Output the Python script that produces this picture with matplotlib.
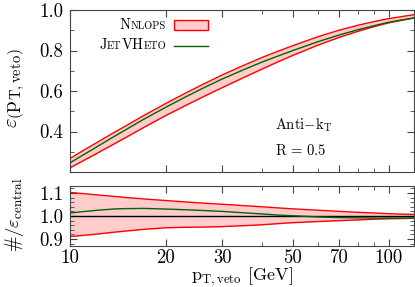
import matplotlib
matplotlib.use("Agg")
import matplotlib.pyplot as plt
from matplotlib.offsetbox import TextArea, HPacker, AnnotationBbox
from matplotlib.ticker import FixedLocator, FixedFormatter, NullFormatter, MultipleLocator
import numpy as np

# values
pt = [10, 11, 12, 13, 14, 15, 17, 20, 23, 26, 30, 35, 40, 45, 50, 60, 70, 80, 90, 100, 110, 120]
eff_central = [0.242, 0.279, 0.312, 0.343, 0.371, 0.397, 0.445, 0.505, 0.555, 0.598, 0.646,
               0.695, 0.736, 0.770, 0.799, 0.847, 0.883, 0.910, 0.931, 0.948, 0.960, 0.970]
ratio_up = [1.102, 1.097, 1.092, 1.088, 1.084, 1.080, 1.074, 1.067, 1.061, 1.056, 1.051,
            1.045, 1.040, 1.035, 1.031, 1.025, 1.020, 1.016, 1.013, 1.010, 1.008, 1.007]
ratio_dn = [0.911, 0.916, 0.921, 0.926, 0.931, 0.935, 0.942, 0.949, 0.951, 0.952, 0.954,
            0.958, 0.962, 0.967, 0.971, 0.976, 0.980, 0.983, 0.986, 0.988, 0.989, 0.990]
ratio_jetvheto = [1.013, 1.019, 1.024, 1.028, 1.031, 1.032, 1.033, 1.030, 1.027, 1.024, 1.020,
                  1.014, 1.009, 1.004, 1.001, 0.996, 0.993, 0.992, 0.991, 0.991, 0.991, 0.991]

xticks = [10, 20, 30, 50, 70, 100]
xminor = [40, 60, 80, 90]

plt.rcParams["font.family"] = "serif"
plt.rcParams["font.serif"] = ["cmr10"]
plt.rcParams["mathtext.fontset"] = "cm"
plt.rcParams["axes.unicode_minus"] = False

pink = "#ffcccc"
red = "#ff0000"
green = "#006400"

pt_a = np.array(pt)
cen = np.array(eff_central)
up = cen * np.array(ratio_up)
dn = cen * np.array(ratio_dn)
jv = cen * np.array(ratio_jetvheto)

fig = plt.figure(figsize=(4.15, 2.87), dpi=100)
ax1 = fig.add_axes([70 / 415, 1 - 172 / 287, 344 / 415, 162 / 287])
ax2 = fig.add_axes([70 / 415, 1 - 246 / 287, 344 / 415, 60 / 287])

# top panel
ax1.fill_between(pt_a, dn, up, color=pink, lw=0)
ax1.plot(pt_a, up, color=red, lw=1)
ax1.plot(pt_a, dn, color=red, lw=1)
ax1.plot(pt_a, jv, color=green, lw=1)
ax1.set_ylim(0.2, 1.0)
ax1.yaxis.set_major_locator(FixedLocator([0.4, 0.6, 0.8, 1.0]))
ax1.yaxis.set_major_formatter(FixedFormatter(["0.4", "0.6", "0.8", "1.0"]))
ax1.yaxis.set_minor_locator(MultipleLocator(0.1))

# bottom panel
ax2.fill_between(pt_a, ratio_dn, ratio_up, color=pink, lw=0)
ax2.plot(pt_a, ratio_up, color=red, lw=1)
ax2.plot(pt_a, ratio_dn, color=red, lw=1)
ax2.axhline(1.0, color="black", lw=1)
ax2.plot(pt_a, ratio_jetvheto, color=green, lw=1)
ax2.set_ylim(0.87, 1.13)
ax2.yaxis.set_major_locator(FixedLocator([0.9, 1.0, 1.1]))
ax2.yaxis.set_major_formatter(FixedFormatter(["0.9", "1.0", "1.1"]))
ax2.yaxis.set_minor_locator(MultipleLocator(0.02))

for ax in (ax1, ax2):
    ax.set_xscale("log")
    ax.set_xlim(10, 120)
    ax.xaxis.set_major_locator(FixedLocator(xticks))
    ax.xaxis.set_minor_locator(FixedLocator(xminor))
    ax.xaxis.set_minor_formatter(NullFormatter())
    ax.tick_params(which="both", direction="in", top=True, right=True, labelsize=13.5, color="#444444")
    ax.tick_params(which="major", length=5)
    ax.tick_params(which="minor", length=3)
    for s in ax.spines.values():
        s.set_color("#444444")
ax1.xaxis.set_major_formatter(NullFormatter())
ax2.xaxis.set_major_formatter(FixedFormatter([str(v) for v in xticks]))
ax2.tick_params(axis="x", pad=2)
ax1.tick_params(axis="y", pad=5)
ax2.tick_params(axis="y", pad=5)


def smallcaps(parts, big=10.5, small=7.5):
    kids = []
    for txt, is_big in parts:
        kids.append(TextArea(txt, textprops=dict(size=big if is_big else small)))
    return HPacker(children=kids, align="baseline", pad=0, sep=0)


leg = [
    (smallcaps([("N", True), ("NLOPS", False)]), 0.907),
    (smallcaps([("J", True), ("ET", False), ("VH", True), ("ETO", False)]), 0.78),
]
for box, yy in leg:
    ab = AnnotationBbox(box, (0.279, yy), xycoords="axes fraction",
                        box_alignment=(1, 0.5), frameon=False)
    ax1.add_artist(ab)

ax1.add_patch(plt.Rectangle((0.302, 0.877), 0.099, 0.061, transform=ax1.transAxes,
                            facecolor=pink, edgecolor=red, lw=1))
ax1.plot([0.302, 0.401], [0.78, 0.78], transform=ax1.transAxes, color=green, lw=1)

ax1.text(0.596, 0.29, r"Anti$-\mathrm{k}_{\mathrm{T}}$", transform=ax1.transAxes,
         fontsize=10.5, va="center", ha="left")
ax1.text(0.596, 0.13, r"R$\,=\,$0.5", transform=ax1.transAxes,
         fontsize=10.5, va="center", ha="left")

fig.text(17 / 415, 1 - 88 / 287, r"$\varepsilon\left(\mathrm{p}_{\mathrm{T,veto}}\right)$",
         rotation=90, ha="center", va="center", fontsize=15)
fig.text(15 / 415, 1 - 215 / 287, r"$\#/\varepsilon_{\mathrm{central}}$",
         rotation=90, ha="center", va="center", fontsize=13.5)
fig.text(242 / 415, 1 - 277 / 287, r"$\mathrm{p}_{\mathrm{T,veto}}$ [GeV]",
         ha="center", va="center", fontsize=13)

fig.savefig("out.png", dpi=100)
